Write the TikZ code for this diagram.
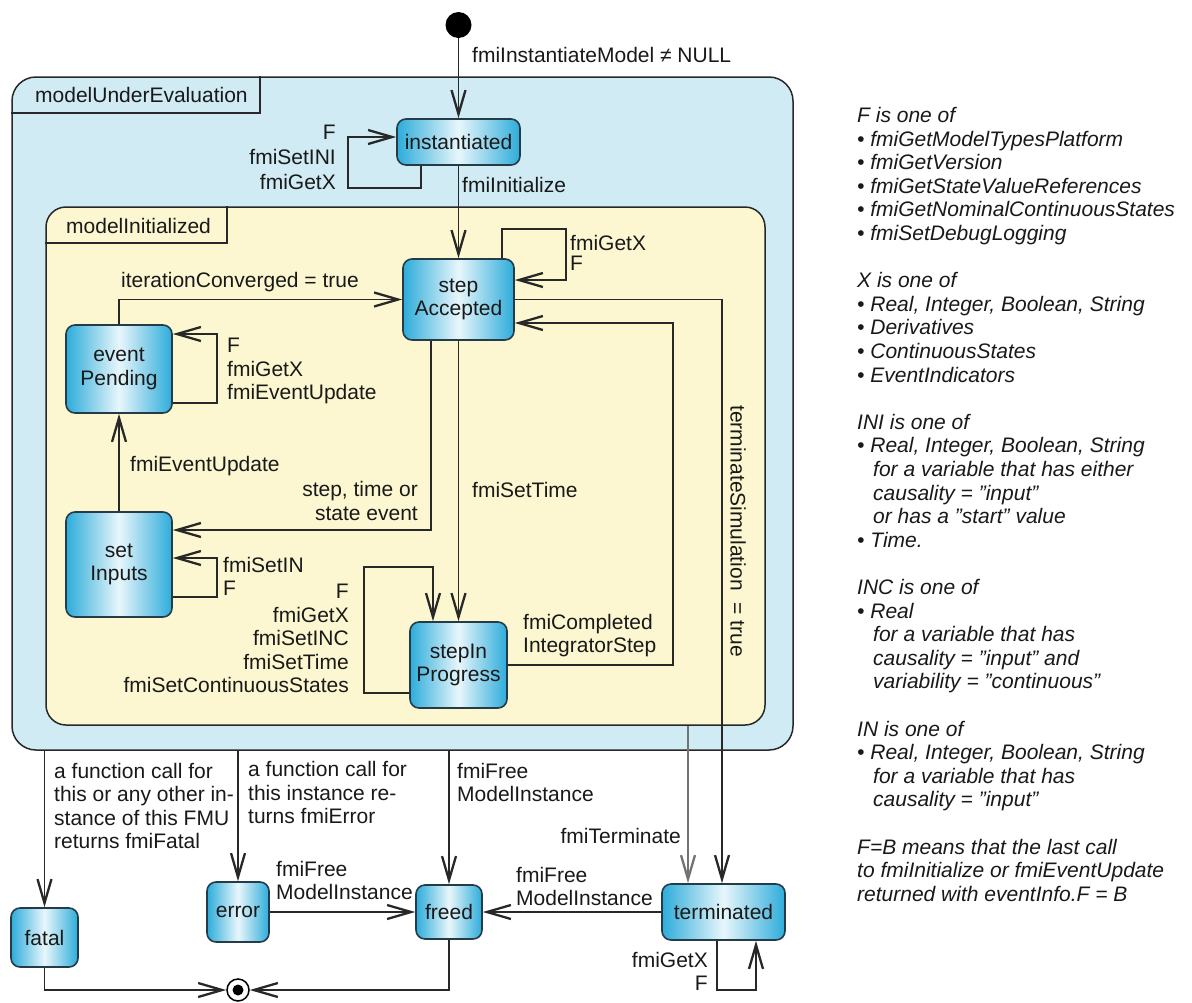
\documentclass[tikz,border=0pt]{standalone}
\usepackage{fontspec}
\setmainfont{Liberation Sans}
\usetikzlibrary{arrows.meta,calc}
\definecolor{nodeC}{RGB}{45,172,218}
\definecolor{nodeM}{RGB}{232,246,251}
\definecolor{outerC}{RGB}{208,235,244}
\definecolor{innerC}{RGB}{252,247,208}
\definecolor{edgeC}{RGB}{40,40,40}
\definecolor{txt}{RGB}{25,25,25}
\definecolor{nodeB}{RGB}{35,60,72}
\newcommand\contind{\hspace*{16pt}}
\newcommand\sq{\symbol{34}}
\begin{document}
\begin{tikzpicture}[x=1pt,y=-1pt,
  lbl/.style={font=\fontsize{21}{23.5}\selectfont, text=txt, inner sep=0pt},
  state/.style={lbl, draw=nodeB, line width=1.6pt, rounded corners=9pt, left color=nodeC, right color=nodeC, middle color=nodeM, align=center},
  region/.style={draw=edgeC, line width=1.5pt, inner sep=0pt},
  tabline/.style={draw=edgeC, line width=1.5pt},
  tr/.style={draw=edgeC, line width=1.5pt, -{Straight Barb[length=24pt,width=14pt,line width=2.3pt]}},
  ]
\useasboundingbox (0,0) rectangle (1192,1002);
\fill[white] (0,0) rectangle (1192,1002);

% regions
\node[region, fill=outerC, rounded corners=24pt, minimum width=781pt, minimum height=673pt] (outer) at (402.5,413.5) {};
\draw[tabline] (outer.north west |- 0,113) -- (260,113) -- (260,0 |- outer.north);
\node[lbl, anchor=west] (tabA) at (35,95) {modelUnderEvaluation};

\node[region, fill=innerC, rounded corners=20pt, minimum width=719pt, minimum height=518pt] (inner) at (405.5,466) {};
\draw[tabline] (inner.north west |- 0,243) -- (227,243) -- (227,0 |- inner.north);
\node[lbl, anchor=west] (tabB) at (66,226) {modelInitialized};

% states
\node[circle, fill=black, minimum size=26pt, inner sep=0pt] (init) at (458.5,25) {};
\node[state, minimum width=123pt, minimum height=46pt] (inst) at (458.5,142) {instantiated};
\node[state, minimum width=111pt, minimum height=81pt] (acc) at (458.5,299.5) {step\\Accepted};
\node[state, minimum width=106pt, minimum height=88pt] (evp) at (119,369) {event\\Pending};
\node[state, minimum width=106pt, minimum height=105pt] (setin) at (119,564.5) {set\\Inputs};
\node[state, minimum width=97pt, minimum height=86pt] (prog) at (458.5,665) {stepIn\\Progress};
\node[state, minimum width=67pt, minimum height=59pt] (fatal) at (44.5,937.5) {fatal};
\node[state, minimum width=62pt, minimum height=60pt] (error) at (238,912) {error};
\node[state, minimum width=66pt, minimum height=54pt] (freed) at (449,912) {freed};
\node[state, minimum width=123pt, minimum height=56pt] (term) at (723.5,912) {terminated};
\node[circle, draw=black, line width=1.5pt, fill=white, minimum size=22pt, inner sep=0pt] (final) at (238,990) {};
\node[circle, fill=black, minimum size=11pt, inner sep=0pt] (finaldot) at (final) {};

% transitions
\draw[tr] (init) -- (inst);
\draw[tr] (inst.south -| 421,0) |- (348,188) |- (inst.west |- 0,137);
\draw[tr] (inst) -- (acc);
\draw[tr] (acc.north -| 502,0) |- (566,229) |- (acc.east |- 0,280);
\draw[tr] (evp.north) |- (acc.west);
\draw[tr] (evp.east |- 0,403) -| (217,334) -- (evp.east |- 0,334);
\draw[tr] (setin) -- (evp);
\draw[tr] (acc.south -| 431,0) |- (setin.east |- 0,530);
\draw[tr] (setin.east |- 0,597) -| (217,558) -- (setin.east |- 0,558);
\draw[tr] (acc) -- (prog);
\draw[tr] (prog.west |- 0,693) -| (364,567) -| (prog.north -| 433,0);
\draw[tr] (prog.east) -| (673,323) -- (acc.east |- 0,323);
\draw[tr] (acc.east) -| (term.north -| 722,0);
\draw[tr, draw=black!55, line width=2pt] (inner.south -| 688,0) -- (term.north -| 688,0);
\draw[tr] (outer.south -| fatal.north) -- (fatal.north);
\draw[tr] (outer.south -| error.north) -- (error.north);
\draw[tr] (outer.south -| freed.north) -- (freed.north);
\draw[tr] (error) -- (freed);
\draw[tr] (term) -- (freed);
\draw[tr] (term.south -| 717,0) |- (756,990) -- (term.south -| 756,0);
\draw[tr] (fatal.south) |- (final);
\draw[tr] (freed.south) |- (final);

% labels
\node[lbl, anchor=west] (l1) at (472,55) {fmiInstantiateModel ≠ NULL};
\node[lbl, anchor=east, align=right, font=\fontsize{21}{25}\selectfont] (l2) at (336,157) {F\\fmiSetINI\\fmiGetX};
\node[lbl, anchor=west] (l3) at (462,185) {fmiInitialize};
\node[lbl, anchor=west, align=left, font=\fontsize{21}{20.5}\selectfont] (l4) at (570,253) {fmiGetX\\F};
\node[lbl, anchor=west] (l5) at (121,282) {iterationConverged = true};
\node[lbl, anchor=west, align=left] (l6) at (227,371) {F\\fmiGetX\\fmiEventUpdate};
\node[lbl, anchor=west] (l7) at (130,466) {fmiEventUpdate};
\node[lbl, anchor=east, align=right] (l8) at (418,501) {step, time or\\state event};
\node[lbl, anchor=west] (l9) at (472,490) {fmiSetTime};
\node[lbl, anchor=west, align=left] (l10) at (223,576.5) {fmiSetIN\\F};
\node[lbl, anchor=east, align=right] (l11) at (349,638.5) {F\\fmiGetX\\fmiSetINC\\fmiSetTime\\fmiSetContinuousStates};
\node[lbl, anchor=west, align=left] (l12) at (523,635.5) {fmiCompleted\\IntegratorStep};
\node[lbl, rotate=-90] (l13) at (738,531) {terminateSimulation\ \ = true};
\node[lbl, anchor=east] (l14) at (681,836) {fmiTerminate};
\node[lbl, anchor=west, align=left] (l15) at (54,806) {a function call for\\this or any other in-\\stance of this FMU\\returns fmiFatal};
\node[lbl, anchor=west, align=left] (l16) at (248,792.5) {a function call for\\this instance re-\\turns fmiError};
\node[lbl, anchor=west, align=left] (l17) at (457,782.5) {fmiFree\\ModelInstance};
\node[lbl, anchor=west, align=left] (l18) at (276,880.5) {fmiFree\\ModelInstance};
\node[lbl, anchor=west, align=left] (l19) at (516,886.5) {fmiFree\\ModelInstance};
\node[lbl, anchor=east, align=right] (l20) at (708,971.5) {fmiGetX\\F};

% notes
\node[lbl, font=\fontsize{21}{23.6}\selectfont\itshape, anchor=north west, align=left] (notes) at (857,107) {%
F is one of\\
• fmiGetModelTypesPlatform\\
• fmiGetVersion\\
• fmiGetStateValueReferences\\
• fmiGetNominalContinuousStates\\
• fmiSetDebugLogging\\[23.6pt]
X is one of\\
• Real, Integer, Boolean, String\\
• Derivatives\\
• ContinuousStates\\
• EventIndicators\\[23.6pt]
INI is one of\\
• Real, Integer, Boolean, String\\
\contind for a variable that has either\\
\contind causality = \sq input\sq\\
\contind or has a \sq start\sq{} value\\
• Time.\\[23.6pt]
INC is one of\\
• Real\\
\contind for a variable that has\\
\contind causality = \sq input\sq{} and\\
\contind variability = \sq continuous\sq\\[23.6pt]
IN is one of\\
• Real, Integer, Boolean, String\\
\contind for a variable that has\\
\contind causality = \sq input\sq\\[23.6pt]
F=B means that the last call\\
to fmiInitialize or fmiEventUpdate\\
returned with eventInfo.F = B};
\end{tikzpicture}
\end{document}
